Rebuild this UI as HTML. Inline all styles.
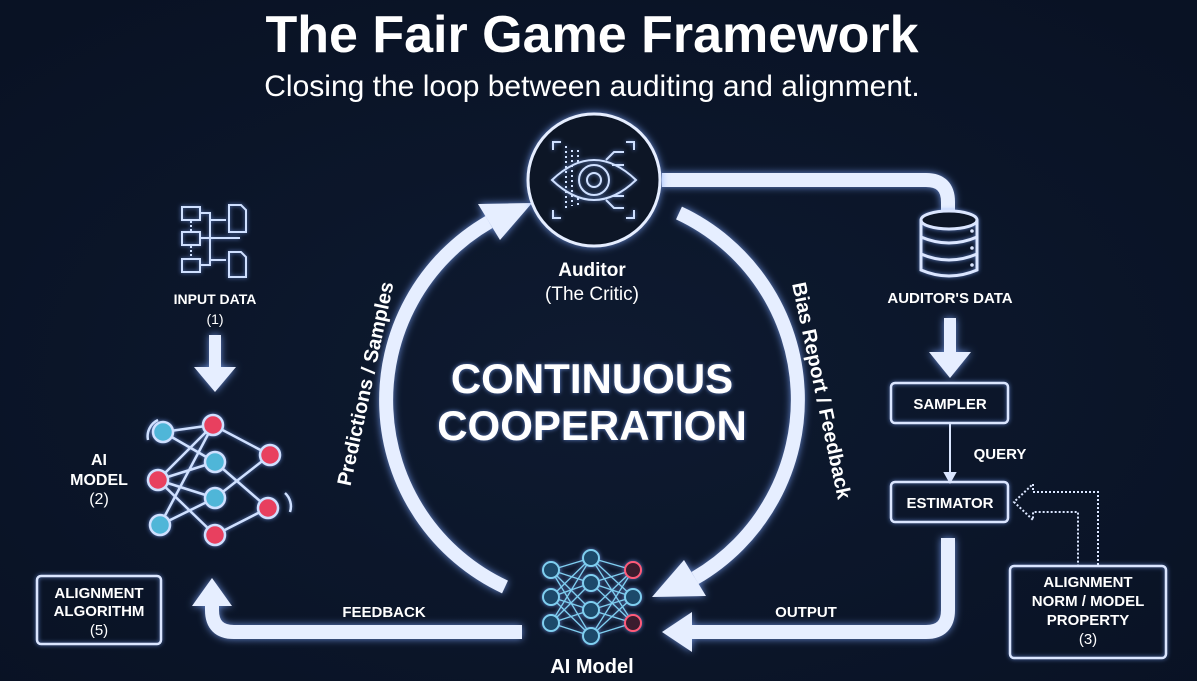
<!DOCTYPE html>
<html><head><meta charset="utf-8"><style>
html,body{margin:0;padding:0;background:#0b1528;}
svg{display:block}
text{font-family:"Liberation Sans",sans-serif;fill:#fff}
</style></head><body>
<svg width="1197" height="681" viewBox="0 0 1197 681" xmlns="http://www.w3.org/2000/svg">
<defs>
<radialGradient id="bg" cx="50%" cy="55%" r="70%"><stop offset="0" stop-color="#0e1a30"/><stop offset="1" stop-color="#091224"/></radialGradient>
<filter id="glow" x="-20%" y="-20%" width="140%" height="140%"><feGaussianBlur stdDeviation="4" result="b"/><feFlood flood-color="#7fa8ff" flood-opacity="0.8"/><feComposite in2="b" operator="in" result="g"/><feMerge><feMergeNode in="g"/><feMergeNode in="SourceGraphic"/></feMerge></filter>
<filter id="sg" x="-10%" y="-10%" width="120%" height="120%"><feGaussianBlur stdDeviation="2" result="b"/><feFlood flood-color="#7fa8ff" flood-opacity="0.7"/><feComposite in2="b" operator="in" result="g"/><feMerge><feMergeNode in="g"/><feMergeNode in="SourceGraphic"/></feMerge></filter>
</defs>
<rect width="1197" height="681" fill="url(#bg)"/>

<text x="592" y="52" font-size="52" font-weight="bold" text-anchor="middle">The Fair Game Framework</text>
<text x="592" y="96" font-size="30" text-anchor="middle" fill="#e6ebf3">Closing the loop between auditing and alignment.</text>

<g filter="url(#glow)" fill="#e6eeff" stroke="none">
<path d="M505,587 A206,206 0 0 1 489,222" fill="none" stroke="#e6eeff" stroke-width="14"/>
<polygon points="478,204 500,240 532,203"/>
<path d="M679,213 A206,206 0 0 1 695,578" fill="none" stroke="#e6eeff" stroke-width="14"/>
<polygon points="706,596 684,560 652,597"/>
<path d="M662,180 H926 Q948,180 948,202 V210" fill="none" stroke="#e6eeff" stroke-width="14"/>
<path d="M948,538 V610 Q948,632 926,632 H690" fill="none" stroke="#e6eeff" stroke-width="14"/>
<polygon points="692,612 692,652 662,632"/>
<path d="M522,632 H234 Q212,632 212,610 V604" fill="none" stroke="#e6eeff" stroke-width="14"/>
<polygon points="192,606 232,606 212,578"/>
<rect x="209" y="335" width="12" height="35"/><polygon points="194,367 236,367 215,392"/>
<rect x="944" y="318" width="12" height="36"/><polygon points="929,352 971,352 950,378"/>
</g>

<g filter="url(#glow)" fill="none" stroke="#e6eeff">
<circle cx="594" cy="180" r="66" stroke-width="3" fill="#0b1528"/>
</g>
<g fill="none" stroke="#cfe0ff" stroke-width="2" filter="url(#sg)">
<path d="M552,180 Q594,140 636,180 Q594,220 552,180Z"/>
<circle cx="594" cy="180" r="15"/><circle cx="594" cy="180" r="7"/>
<path d="M553,150 v-8 h8 M634,150 v-8 h-8 M553,210 v8 h8 M634,210 v8 h-8"/>
<path d="M606,160 l8,-8 h10 M612,165 h12 M606,200 l8,8 h10 M612,196 h12"/>
<path d="M566,146 v64 M572,150 v56 M578,150 v12 M578,198 v10" stroke-dasharray="2 3"/>
</g>
<text x="592" y="276" font-size="19" font-weight="bold" text-anchor="middle">Auditor</text>
<text x="592" y="300" font-size="19" text-anchor="middle" fill="#e6ebf3">(The Critic)</text>

<text x="592" y="393" font-size="42" font-weight="bold" text-anchor="middle" fill="#aeb5c2" filter="url(#sg)">CONTINUOUS</text>
<text x="592" y="440" font-size="42" font-weight="bold" text-anchor="middle" fill="#aeb5c2" filter="url(#sg)">COOPERATION</text>

<text transform="translate(372,385) rotate(-78)" font-size="20" font-weight="bold" text-anchor="middle">Predictions / Samples</text>
<text transform="translate(815,392) rotate(78)" font-size="20" font-weight="bold" text-anchor="middle">Bias Report / Feedback</text>

<g fill="none" stroke="#cfe0ff" stroke-width="2" filter="url(#sg)">
<rect x="182" y="207" width="18" height="13"/><rect x="182" y="232" width="18" height="13"/><rect x="182" y="259" width="18" height="13"/>
<path d="M191,221 v10 M191,246 v12" stroke-dasharray="2 2"/>
<path d="M200,213 h10 v52 h-10 M200,238 h40 M210,220 h16 M210,260 h16"/>
<path d="M229,205 h12 l5,5 v22 h-17z M229,252 h12 l5,5 v20 h-17z"/>
</g>
<text x="215" y="304" font-size="14" font-weight="bold" text-anchor="middle">INPUT DATA</text>
<text x="215" y="324" font-size="14" text-anchor="middle">(1)</text>

<g stroke="#cfe0ff" stroke-width="2.5" filter="url(#sg)">
<path d="M163,432 L215,462 M163,432 L213,425 M213,425 L270,455 M213,425 L158,480 M158,480 L215,462 M158,480 L215,498 M158,480 L215,535 M215,462 L268,508 M270,455 L215,498 M215,498 L160,525 M215,535 L268,508 M213,425 L160,525" fill="none"/>
<g fill="#4fb6d8"><circle cx="163" cy="432" r="10"/><circle cx="215" cy="462" r="10"/><circle cx="215" cy="498" r="10"/><circle cx="160" cy="525" r="10"/></g>
<g fill="#e8405f"><circle cx="213" cy="425" r="10"/><circle cx="270" cy="455" r="10"/><circle cx="158" cy="480" r="10"/><circle cx="268" cy="508" r="10"/><circle cx="215" cy="535" r="10"/></g>
<path d="M148,440 A18,18 0 0 1 158,420 M285,493 A18,18 0 0 1 290,512" fill="none"/>
</g>
<text x="99" y="465" font-size="16" font-weight="bold" text-anchor="middle">AI</text>
<text x="99" y="485" font-size="16" font-weight="bold" text-anchor="middle">MODEL</text>
<text x="99" y="504" font-size="16" text-anchor="middle">(2)</text>

<g fill="none" stroke="#dbe6ff" stroke-width="2.5" filter="url(#sg)">
<rect x="37" y="576" width="124" height="68" rx="4"/>
<rect x="891" y="383" width="117" height="40" rx="4"/>
<rect x="891" y="482" width="117" height="40" rx="4"/>
<rect x="1010" y="566" width="156" height="92" rx="4"/>
</g>
<text x="99" y="598" font-size="15" font-weight="bold" text-anchor="middle">ALIGNMENT</text>
<text x="99" y="616" font-size="15" font-weight="bold" text-anchor="middle">ALGORITHM</text>
<text x="99" y="635" font-size="15" text-anchor="middle">(5)</text>
<text x="950" y="409" font-size="15" font-weight="bold" text-anchor="middle">SAMPLER</text>
<text x="950" y="508" font-size="15" font-weight="bold" text-anchor="middle">ESTIMATOR</text>
<text x="1088" y="587" font-size="15" font-weight="bold" text-anchor="middle">ALIGNMENT</text>
<text x="1088" y="606" font-size="15" font-weight="bold" text-anchor="middle">NORM / MODEL</text>
<text x="1088" y="625" font-size="15" font-weight="bold" text-anchor="middle">PROPERTY</text>
<text x="1088" y="644" font-size="15" text-anchor="middle">(3)</text>

<g fill="none" stroke="#dbe6ff" stroke-width="3" filter="url(#sg)">
<ellipse cx="949" cy="220" rx="28" ry="9" fill="#0b1528"/>
<path d="M921,220 V270 Q949,282 977,270 V220 M921,237 Q949,249 977,237 M921,254 Q949,266 977,254"/>
</g>
<g fill="#dbe6ff"><circle cx="972" cy="231" r="1.8"/><circle cx="972" cy="248" r="1.8"/><circle cx="972" cy="265" r="1.8"/></g>
<text x="950" y="303" font-size="15" font-weight="bold" text-anchor="middle">AUDITOR'S DATA</text>

<g stroke="#dbe6ff" stroke-width="2" fill="#dbe6ff">
<line x1="950" y1="423" x2="950" y2="474"/><polygon points="945,473 955,473 950,482"/>
</g>
<text x="1000" y="459" font-size="15" font-weight="bold" text-anchor="middle">QUERY</text>

<g fill="none" stroke="#dbe6ff" stroke-width="2" stroke-dasharray="2 2">
<path d="M1098,565 V492 H1033 V484 L1014,502 L1033,520 V512 H1078 V565"/>
</g>

<g stroke="#7fcff0" stroke-width="1.3" fill="none" filter="url(#sg)">
<path d="M551,570 L591,558 M551,570 L591,583 M551,570 L591,610 M551,570 L591,636 M551,597 L591,558 M551,597 L591,583 M551,597 L591,610 M551,597 L591,636 M551,623 L591,558 M551,623 L591,583 M551,623 L591,610 M551,623 L591,636 M591,558 L633,570 M591,558 L633,597 M591,558 L633,623 M591,583 L633,570 M591,583 L633,597 M591,583 L633,623 M591,610 L633,570 M591,610 L633,597 M591,610 L633,623 M591,636 L633,570 M591,636 L633,597 M591,636 L633,623"/>
<g stroke-width="2" fill="#1d4a6a"><circle cx="551" cy="570" r="8"/><circle cx="551" cy="597" r="8"/><circle cx="551" cy="623" r="8"/><circle cx="591" cy="558" r="8"/><circle cx="591" cy="583" r="8"/><circle cx="591" cy="610" r="8"/><circle cx="591" cy="636" r="8"/><circle cx="633" cy="597" r="8"/></g>
<g stroke="#ff5a78" stroke-width="2" fill="#3a1b2e"><circle cx="633" cy="570" r="8"/><circle cx="633" cy="623" r="8"/></g>
</g>
<text x="592" y="673" font-size="20" font-weight="bold" text-anchor="middle">AI Model</text>
<text x="384" y="617" font-size="15" font-weight="bold" text-anchor="middle">FEEDBACK</text>
<text x="806" y="617" font-size="15" font-weight="bold" text-anchor="middle">OUTPUT</text>
</svg>
</body></html>
